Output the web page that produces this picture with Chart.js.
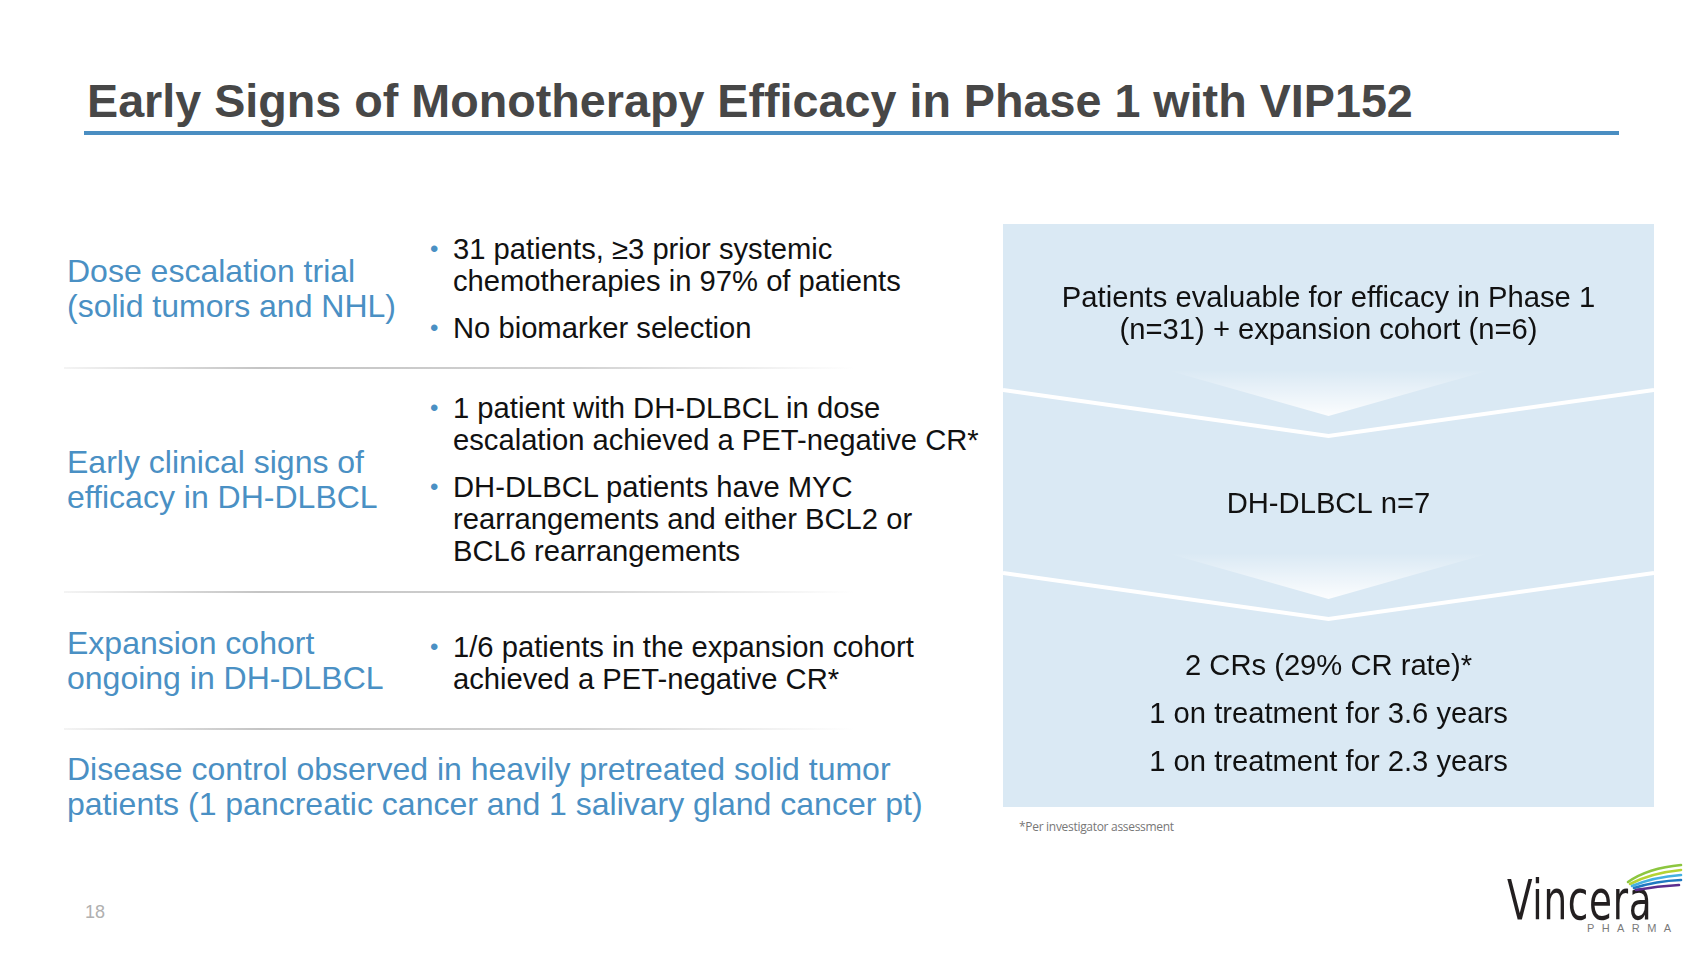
<!DOCTYPE html>
<html>
<head>
<meta charset="utf-8">
<script src="https://cdn.jsdelivr.net/npm/chart.js"></script>
<style>
  body { margin: 0; width: 1707px; height: 960px; background: #fff; overflow: hidden;
         font-family: "Liberation Sans", Arial, sans-serif; position: relative; }
  .abs { position: absolute; white-space: nowrap; }
  #title { left: 87px; top: 73px; font-size: 46.7px; line-height: 56px; font-weight: bold; color: #474747; }
  #rule { left: 84px; top: 131px; width: 1535px; height: 4px; background: #4a8ec2; }
  .head { left: 67px; font-size: 32px; line-height: 35px; color: #4a90c4; }
  .list { left: 453px; font-size: 29.2px; line-height: 32px; color: #111; }
  .list p { margin: 0 0 15px 0; position: relative; }
  .list p::before { content: "\2022"; position: absolute; left: -23px; top: 0; color: #4a90c4; font-size: 24px; }
  .sep { left: 64px; width: 790px; height: 2px;
         background: linear-gradient(to right, rgba(200,200,200,0.2), #c4c4c4 25%, #d2d2d2 65%, rgba(255,255,255,0)); }
  #panel { left: 1003px; top: 224px; width: 651px; height: 583px; }
  #note { left: 1019px; top: 818px; font-family: "Open Sans", sans-serif; font-size: 12px; color: #777; letter-spacing: -0.3px; }
  #page { left: 85px; top: 902px; font-size: 18px; color: #b0b0b0; }
  #logo { left: 1507px; top: 870px; font-family: "Liberation Sans Narrow", "DejaVu Sans Condensed", sans-serif;
          font-size: 56px; line-height: 60px; color: #231f20; letter-spacing: 1px;
          transform: scaleX(0.74); transform-origin: left top; }
  #pharma { left: 1587px; top: 922px; font-size: 11px; color: #7a7a7a; letter-spacing: 7.4px; }
  #wing { left: 1626px; top: 863px; }
</style>
</head>
<body>
<div class="abs" id="title"></div>
<div class="abs" id="rule"></div>
<div id="left"></div>
<div class="abs" id="panel"><canvas id="funnelChart"></canvas></div>
<div class="abs" id="note">*Per investigator assessment</div>
<div class="abs" id="page">18</div>
<div class="abs" id="logo">Vincera</div>
<div class="abs" id="pharma">PHARMA</div>
<svg class="abs" id="wing" width="58" height="32" viewBox="0 0 58 32" fill="none" stroke-width="2.6" stroke-linecap="round">
  <path d="M2 19 Q22 5 55 2" stroke="#8cc63f"/>
  <path d="M4 21 Q25 10 55 7" stroke="#b5d334"/>
  <path d="M6 23 Q28 14 55 12" stroke="#45b0e1"/>
  <path d="M8 25 Q30 18 55 17" stroke="#1f78c1"/>
  <path d="M10 27 Q32 23 53 22" stroke="#5b2d8e"/>
</svg>

<script>
// Slide text
const slideTitle = 'Early Signs of Monotherapy Efficacy in Phase 1 with VIP152';

const sectionHeads = [
    ['Dose escalation trial', '(solid tumors and NHL)'],
    ['Early clinical signs of', 'efficacy in DH-DLBCL'],
    ['Expansion cohort', 'ongoing in DH-DLBCL'],
    ['Disease control observed in heavily pretreated solid tumor',
     'patients (1 pancreatic cancer and 1 salivary gland cancer pt)']
];

const sectionBullets = [
    [['31 patients, \u22653 prior systemic', 'chemotherapies in 97% of patients'],
     ['No biomarker selection']],
    [['1 patient with DH-DLBCL in dose', 'escalation achieved a PET-negative CR*'],
     ['DH-DLBCL patients have MYC', 'rearrangements and either BCL2 or', 'BCL6 rearrangements']],
    [['1/6 patients in the expansion cohort', 'achieved a PET-negative CR*']],
    []
];

// Funnel stages (right panel)
const stageNames = ['Phase 1 + expansion', 'DH-DLBCL', 'Complete responses'];
const stageBand = [1, 1, 1];   // every stage spans the full panel width
const stageText = [
    [['Patients evaluable for efficacy in Phase 1', '(n=31) + expansion cohort (n=6)']],
    [['DH-DLBCL n=7']],
    [['2 CRs (29% CR rate)*'], ['1 on treatment for 3.6 years'], ['1 on treatment for 2.3 years']]
];

// layout of the left column
const headTops = [254, 445, 626, 752];
const listTops = [233, 392, 631];
const sepTops = [367, 591, 728];

document.getElementById('title').innerText = slideTitle;

const left = document.getElementById('left');
sectionHeads.forEach((lines, i) => {
    const d = document.createElement('div');
    d.className = 'abs head';
    d.style.top = headTops[i] + 'px';
    d.innerHTML = lines.join('<br>');
    left.appendChild(d);

    if (sectionBullets[i].length) {
        const l = document.createElement('div');
        l.className = 'abs list';
        l.style.top = listTops[i] + 'px';
        sectionBullets[i].forEach(b => {
            const p = document.createElement('p');
            p.innerHTML = b.join('<br>');
            l.appendChild(p);
        });
        left.appendChild(l);
    }
});
sepTops.forEach(t => {
    const s = document.createElement('div');
    s.className = 'abs sep';
    s.style.top = t + 'px';
    left.appendChild(s);
});

const panelColor = '#dae9f4';

// draws panel background, chevrons and stage captions
const funnelPlugin = {
    id: 'funnel',
    beforeDraw(chart) {
        const ctx = chart.ctx;
        ctx.save();
        ctx.fillStyle = panelColor;
        ctx.fillRect(0, 0, chart.width, chart.height);
        ctx.restore();
    },
    afterDatasetsDraw(chart) {
        const ctx = chart.ctx;
        const y = chart.scales.y;
        const cx = chart.width / 2;
        const n = stageText.length;
        const edges = [], tips = [];
        ctx.save();
        for (let i = 0; i < n - 1; i++) {
            const b = (y.getPixelForValue(i) + y.getPixelForValue(i + 1)) / 2;
            const edge = b - 17, tip = b + 29;
            edges.push(edge);
            tips.push(tip);

            const g = ctx.createLinearGradient(0, tip - 66, 0, tip - 20);
            g.addColorStop(0, 'rgba(255,255,255,0)');
            g.addColorStop(1, 'rgba(255,255,255,0.9)');
            ctx.fillStyle = g;
            ctx.beginPath();
            ctx.moveTo(cx - 162, tip - 66);
            ctx.lineTo(cx + 162, tip - 66);
            ctx.lineTo(cx, tip - 20);
            ctx.closePath();
            ctx.fill();

            ctx.strokeStyle = '#fff';
            ctx.lineWidth = 4;
            ctx.beginPath();
            ctx.moveTo(0, edge);
            ctx.lineTo(cx, tip);
            ctx.lineTo(chart.width, edge);
            ctx.stroke();
        }

        ctx.font = '29.2px "Liberation Sans", Arial, sans-serif';
        ctx.fillStyle = '#111';
        ctx.textAlign = 'center';
        ctx.textBaseline = 'middle';
        const lh = 32, gap = 16;
        stageText.forEach((paras, i) => {
            const top = i === 0 ? 16 : tips[i - 1];
            const bottom = i === n - 1 ? chart.height + 4 : edges[i];
            const nLines = paras.reduce((s, p) => s + p.length, 0);
            const total = nLines * lh + (paras.length - 1) * gap;
            let yy = (top + bottom) / 2 - total / 2 + lh / 2;
            paras.forEach(p => {
                p.forEach(line => {
                    ctx.fillText(line, cx, yy);
                    yy += lh;
                });
                yy += gap;
            });
        });
        ctx.restore();
    }
};

let ctx = document.getElementById('funnelChart').getContext('2d');
let funnelChart = new Chart(ctx, {
    type: 'bar',
    data: {
        labels: stageNames,
        datasets: [{
            data: stageBand,
            backgroundColor: panelColor,
            borderWidth: 0,
            barPercentage: 1,
            categoryPercentage: 1
        }]
    },
    options: {
        indexAxis: 'y',
        responsive: true,
        maintainAspectRatio: false,
        devicePixelRatio: 1,
        animation: false,
        events: [],
        layout: { padding: { bottom: 34 } },
        scales: {
            x: { display: false, min: 0, max: 1 },
            y: { display: false }
        },
        plugins: { legend: { display: false }, tooltip: { enabled: false } }
    },
    plugins: [funnelPlugin]
});
</script>
</body>
</html>
